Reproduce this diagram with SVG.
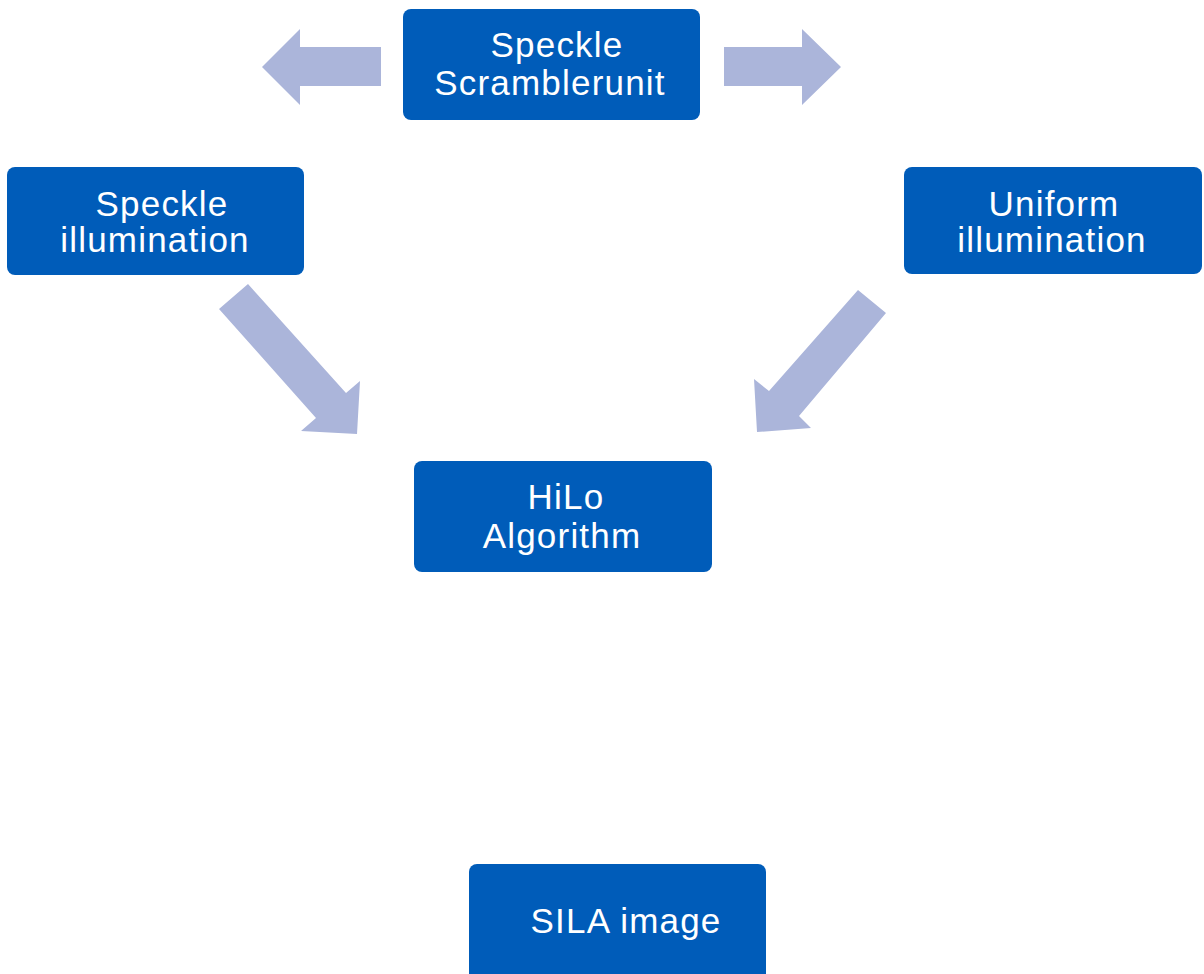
<svg xmlns="http://www.w3.org/2000/svg" width="1204" height="974" viewBox="0 0 1204 974">
<style>
.box{fill:#005cb9}
.t{fill:#fff;font-family:"Liberation Sans",Arial,sans-serif;font-size:35px;letter-spacing:1.2px;text-anchor:middle}
.arr{fill:#abb5da}
</style>
<rect width="1204" height="974" fill="#fff"/>
<g id="connectors">
<polygon class="arr" points="262,67 300,29 300,47 381,47 381,86 300,86 300,105"/>
<polygon class="arr" points="841,67 802,29 802,47 724,47 724,86 802,86 802,105"/>
<polygon class="arr" points="219,309 248,284 346,393 360,381 357,434 301,431 316,418"/>
<polygon class="arr" points="886,313 858,290 769,391 754,379 757,432 811,428 799,416"/>
</g>
<g id="node-scrambler">
<rect class="box" x="403" y="9" width="297" height="111" rx="8"/>
<text class="t" x="557" y="57">Speckle</text>
<text class="t" x="550" y="95">Scramblerunit</text>
</g>
<g id="node-speckle">
<rect class="box" x="7" y="167" width="297" height="108" rx="8"/>
<text class="t" x="162" y="216">Speckle</text>
<text class="t" x="155" y="252">illumination</text>
</g>
<g id="node-uniform">
<rect class="box" x="904" y="167" width="298" height="107" rx="8"/>
<text class="t" x="1054" y="216">Uniform</text>
<text class="t" x="1052" y="252">illumination</text>
</g>
<g id="node-hilo">
<rect class="box" x="414" y="461" width="298" height="111" rx="8"/>
<text class="t" x="566" y="509">HiLo</text>
<text class="t" x="562" y="548">Algorithm</text>
</g>
<g id="node-sila">
<rect class="box" x="469" y="864" width="297" height="118" rx="8"/>
<text class="t" x="626" y="933">SILA image</text>
</g>
</svg>
